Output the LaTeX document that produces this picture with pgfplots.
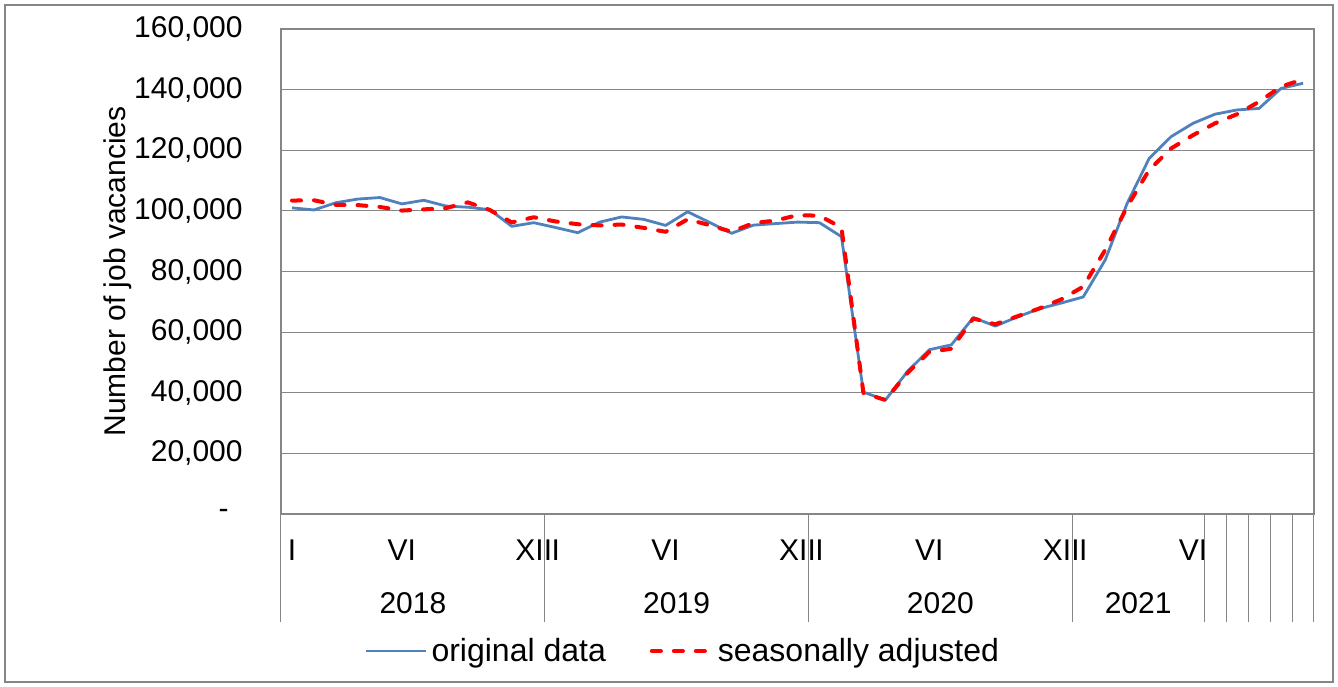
\documentclass[border=0pt]{standalone}
\usepackage{fontspec}
\setmainfont{Liberation Sans}
\usepackage{pgfplots}
\pgfplotsset{compat=1.18}
\usepackage{pgfplotstable}
\definecolor{origblue}{HTML}{4F81BD}
\definecolor{gridc}{HTML}{868686}
\pgfplotstableread{
x orig sa
1 101000 103400
2 100300 103500
3 102700 102000
4 103900 101900
5 104400 101300
6 102300 100100
7 103500 100500
8 101600 100900
9 101200 102800
10 100400 100300
11 94900 96200
12 96100 97900
13 94500 96500
14 92800 95600
15 96300 95200
16 98000 95500
17 97200 94400
18 95200 93100
19 99700 97200
20 96200 95300
21 92600 93100
22 95300 96000
23 95800 96800
24 96300 98600
25 96100 98400
26 91500 94500
27 40200 39900
28 37600 37600
29 47000 46500
30 54200 53500
31 55800 54500
32 64800 64500
33 62000 62600
34 65000 65200
35 67700 67800
36 69600 70800
37 71600 75000
38 83800 87100
39 102500 101400
40 117300 113500
41 124500 120600
42 128900 125000
43 131900 128900
44 133300 131900
45 133800 136000
46 140400 141000
47 142100 143400
}\data

\begin{document}
\begin{tikzpicture}[font=\fontsize{15}{18}\selectfont]
\path (-140.5pt,-86pt) rectangle (528.5pt,257pt);
\draw[gridc, line width=1pt] (-138pt,-84pt) rectangle (526pt,254.5pt);
\begin{axis}[name=ax, at={(0pt,0pt)}, anchor=south west,
  scale only axis, width=516.5pt, height=242.5pt,
  xmin=0.5, xmax=47.5, ymin=0, ymax=160000, clip=false,
  axis line style={gridc, line width=0.6pt},
  ymajorgrids, grid style={gridc, line width=0.5pt},
  ytick={0,20000,40000,60000,80000,100000,120000,140000,160000},
  yticklabels={{-\kern7pt},{20,000},{40,000},{60,000},{80,000},{100,000},{120,000},{140,000},{160,000}},
  scaled y ticks=false,
  major tick length=0pt,
  yticklabel style={anchor=east, inner sep=0pt, xshift=-19pt},
  xtick={1,6,12,13,18,24,25,30,36,37,42},
  xticklabels={I,VI,XII,I,VI,XII,I,VI,XII,I,VI},
  xticklabel style={anchor=base, inner sep=0pt, yshift=-23pt},
  ylabel={Number of job vacancies},
  every axis y label/.style={at={(axis description cs:0,0.5)}, xshift=-81.5pt, rotate=90, anchor=center},
  legend style={at={(axis description cs:0.39,0)}, anchor=center, yshift=-68.5pt,
    draw=none, fill=none, font=\fontsize{16}{19}\selectfont,
    /tikz/every even column/.append style={column sep=20pt}},
  legend columns=2,
  legend image code/.code={\draw[#1] (0pt,0pt) -- (30pt,0pt);},
]
\addplot[origblue, line width=1.4pt, line join=round] table[x=x,y=orig]{\data};
\addlegendentry{original data}
\addplot[red, line width=2pt, dash pattern=on 4.5pt off 6.5pt, line cap=round, line join=round] table[x=x,y=sa]{\data};
\addlegendentry{seasonally adjusted}
\pgfplotsinvokeforeach{0.5,12.5,24.5,36.5,42.5,43.5,44.5,45.5,46.5,47.5}{
  \draw[gridc, line width=0.5pt] (axis cs:#1,0) -- ++(0pt,-54pt);
}
\node[anchor=base, yshift=-49.5pt] at (axis cs:6.5,0) {2018};
\node[anchor=base, yshift=-49.5pt] at (axis cs:18.5,0) {2019};
\node[anchor=base, yshift=-49.5pt] at (axis cs:30.5,0) {2020};
\node[anchor=base, yshift=-49.5pt] at (axis cs:39.5,0) {2021};
\end{axis}
\end{tikzpicture}
\end{document}
